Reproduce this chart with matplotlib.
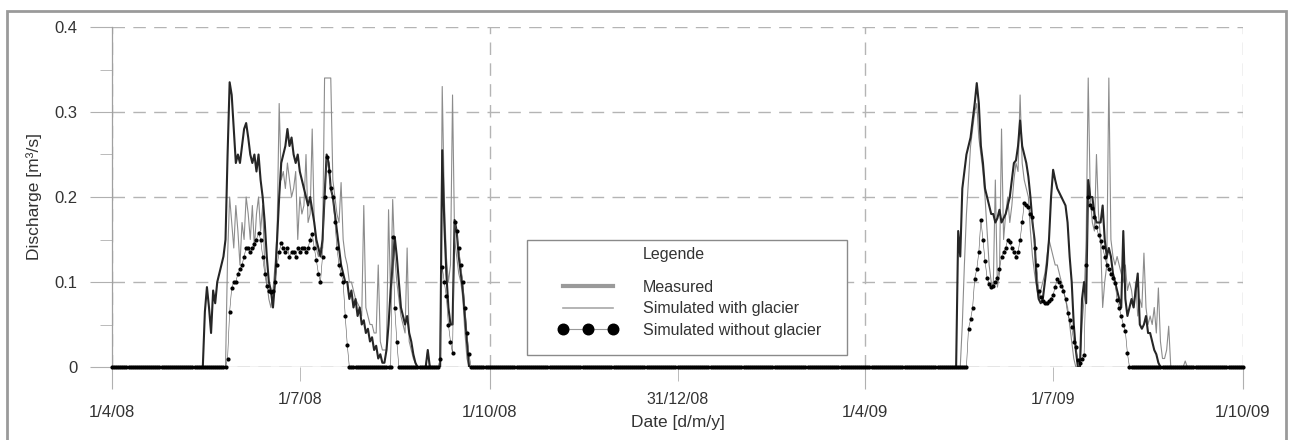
import numpy as np
import matplotlib
matplotlib.use("Agg")
import matplotlib.pyplot as plt
from matplotlib.patches import Rectangle

plt.rcParams["font.family"] = ["Liberation Sans", "DejaVu Sans"]

# Daily series, days counted from 1/4/08. Each season is stored as (start day, values).
start_date = np.datetime64("2008-04-01")
n_days = 549

meas_08_start = 44
meas_08 = [0.0, 0.065, 0.094, 0.07, 0.04, 0.09, 0.075, 0.1, 0.11, 0.12,
           0.13, 0.15, 0.25, 0.335, 0.32, 0.28, 0.24, 0.25, 0.24, 0.26,
           0.28, 0.287, 0.27, 0.25, 0.24, 0.25, 0.23, 0.25, 0.22, 0.2,
           0.17, 0.13, 0.1, 0.09, 0.07, 0.1, 0.15, 0.2, 0.24, 0.25,
           0.26, 0.28, 0.26, 0.27, 0.25, 0.24, 0.25, 0.23, 0.22, 0.21,
           0.2, 0.19, 0.2, 0.185, 0.17, 0.15, 0.14, 0.13, 0.15, 0.2,
           0.25, 0.24, 0.21, 0.2, 0.18, 0.16, 0.14, 0.12, 0.11, 0.1,
           0.1, 0.08, 0.09, 0.07, 0.08, 0.06, 0.07, 0.05, 0.055, 0.04,
           0.045, 0.03, 0.035, 0.02, 0.025, 0.01, 0.015, 0.005, 0.005, 0.02,
           0.05, 0.09, 0.12, 0.153, 0.13, 0.1, 0.07, 0.06, 0.05, 0.06,
           0.04, 0.03, 0.015, 0.005, 0, 0, 0, 0, 0, 0.02,
           0, 0, 0, 0, 0, 0, 0.255, 0.17, 0.11, 0.07,
           0.05, 0.05, 0.173, 0.16, 0.13, 0.11, 0.09, 0.06, 0.03, 0]

meas_09_start = 409
meas_09 = [0, 0.16, 0.13, 0.21, 0.23, 0.25, 0.26, 0.27, 0.29, 0.31,
           0.334, 0.31, 0.26, 0.24, 0.21, 0.2, 0.19, 0.18, 0.18, 0.17,
           0.175, 0.185, 0.17, 0.175, 0.18, 0.19, 0.2, 0.22, 0.24, 0.243,
           0.26, 0.29, 0.26, 0.25, 0.24, 0.224, 0.2, 0.17, 0.15, 0.1,
           0.08, 0.075, 0.08, 0.1, 0.12, 0.15, 0.2, 0.232, 0.22, 0.21,
           0.205, 0.2, 0.195, 0.19, 0.17, 0.13, 0.1, 0.05, 0.02, 0,
           0, 0.08, 0.1, 0.075, 0.22, 0.2, 0.2, 0.18, 0.17, 0.17,
           0.17, 0.19, 0.15, 0.13, 0.14, 0.13, 0.11, 0.1, 0.09, 0.08,
           0.07, 0.16, 0.08, 0.06, 0.07, 0.08, 0.07, 0.09, 0.11, 0.05,
           0.045, 0.05, 0.06, 0.04, 0.04, 0.03, 0.02, 0.015, 0.005, 0]

glac_08_start = 55
glac_08 = [0, 0.13, 0.2, 0.17, 0.14, 0.19, 0.16, 0.12, 0.17, 0.15,
           0.2, 0.18, 0.15, 0.19, 0.14, 0.18, 0.2, 0.16, 0.19, 0.12,
           0.1, 0.08, 0.07, 0.09, 0.12, 0.16, 0.31, 0.22, 0.23, 0.21,
           0.24, 0.22, 0.2, 0.21, 0.23, 0.15, 0.2, 0.18, 0.19, 0.25,
           0.17, 0.18, 0.28, 0.17, 0.14, 0.13, 0.14, 0.14, 0.34, 0.34,
           0.34, 0.34, 0.22, 0.2, 0.18, 0.17, 0.217, 0.15, 0.13, 0.12,
           0.1, 0.1, 0.09, 0.08, 0.075, 0.07, 0.06, 0.19, 0.07, 0.06,
           0.05, 0.05, 0.04, 0.04, 0.12, 0.03, 0.02, 0.02, 0.02, 0.185,
           0.08, 0.197, 0.13, 0.1, 0.08, 0.06, 0.05, 0.04, 0.14, 0.03,
           0.02, 0.01, 0.005, 0, 0, 0, 0, 0, 0.02, 0,
           0, 0, 0, 0, 0, 0.33, 0.2, 0.13, 0.1, 0.12,
           0.32, 0.15, 0.13, 0.11, 0.1, 0.08, 0.04, 0.01, 0]

glac_09_start = 411
glac_09 = [0, 0.05, 0.12, 0.18, 0.22, 0.26, 0.28, 0.3, 0.31, 0.27,
           0.25, 0.23, 0.2, 0.16, 0.12, 0.1, 0.095, 0.22, 0.094, 0.11,
           0.28, 0.15, 0.18, 0.2, 0.17, 0.19, 0.22, 0.24, 0.23, 0.32,
           0.24, 0.22, 0.21, 0.2, 0.16, 0.13, 0.11, 0.094, 0.08, 0.09,
           0.1, 0.11, 0.13, 0.15, 0.14, 0.13, 0.12, 0.12, 0.11, 0.1,
           0.09, 0.08, 0.07, 0.05, 0.03, 0.01, 0, 0, 0, 0.05,
           0.08, 0.15, 0.34, 0.2, 0.17, 0.16, 0.25, 0.18, 0.15, 0.07,
           0.1, 0.12, 0.34, 0.15, 0.13, 0.12, 0.13, 0.12, 0.11, 0.1,
           0.12, 0.09, 0.1, 0.09, 0.07, 0.1, 0.06, 0.08, 0.07, 0.134,
           0.07, 0.05, 0.06, 0.05, 0.07, 0.04, 0.093, 0.03, 0.01, 0.01,
           0.02, 0.048, 0, 0, 0, 0, 0, 0, 0, 0.007, 0]

noglac_08_start = 55
noglac_08 = [0, 0.01, 0.065, 0.093, 0.1, 0.1, 0.11, 0.115, 0.12, 0.13,
             0.14, 0.14, 0.135, 0.14, 0.145, 0.15, 0.158, 0.15, 0.13, 0.11,
             0.095, 0.09, 0.088, 0.09, 0.1, 0.12, 0.135, 0.146, 0.14, 0.135,
             0.14, 0.13, 0.135, 0.135, 0.13, 0.14, 0.135, 0.14, 0.14, 0.135,
             0.14, 0.15, 0.157, 0.14, 0.126, 0.11, 0.1, 0.13, 0.2, 0.247,
             0.23, 0.21, 0.2, 0.17, 0.14, 0.12, 0.11, 0.1, 0.06, 0.026,
             0, 0, 0, 0, 0, 0, 0, 0, 0, 0,
             0, 0, 0, 0, 0, 0, 0, 0, 0, 0,
             0, 0.153, 0.07, 0.03, 0, 0, 0, 0, 0, 0,
             0, 0, 0, 0, 0, 0, 0, 0, 0, 0,
             0, 0, 0, 0, 0.01, 0.118, 0.1, 0.083, 0.05, 0.03,
             0.016, 0.17, 0.16, 0.14, 0.12, 0.1, 0.07, 0.04, 0.015, 0]

noglac_09_start = 414
noglac_09 = [0, 0.045, 0.056, 0.07, 0.104, 0.115, 0.135, 0.173, 0.15, 0.125,
             0.105, 0.098, 0.094, 0.095, 0.1, 0.105, 0.115, 0.13, 0.135, 0.14,
             0.15, 0.147, 0.14, 0.135, 0.13, 0.135, 0.15, 0.17, 0.193, 0.19,
             0.188, 0.18, 0.176, 0.14, 0.12, 0.09, 0.082, 0.078, 0.075, 0.075,
             0.078, 0.08, 0.085, 0.094, 0.104, 0.1, 0.095, 0.09, 0.08, 0.063,
             0.055, 0.047, 0.03, 0.023, 0.008, 0.005, 0.01, 0.014, 0.12, 0.2,
             0.19, 0.187, 0.176, 0.165, 0.155, 0.148, 0.141, 0.13, 0.12, 0.115,
             0.11, 0.105, 0.099, 0.079, 0.07, 0.06, 0.05, 0.042, 0.016, 0]

major_dates = ["2008-04-01", "2008-10-01", "2009-04-01", "2009-10-01"]
major_labels = ["1/4/08", "1/10/08", "1/4/09", "1/10/09"]
minor_dates = ["2008-07-01", "2008-12-31", "2009-07-01"]
minor_labels = ["1/7/08", "31/12/08", "1/7/09"]


def build(*segments):
    arr = np.zeros(n_days)
    for start, vals in segments:
        arr[start:start + len(vals)] = vals
    return arr


dates = start_date + np.arange(n_days)
measured = build((meas_08_start, meas_08), (meas_09_start, meas_09))
with_glacier = build((glac_08_start, glac_08), (glac_09_start, glac_09))
without_glacier = build((noglac_08_start, noglac_08), (noglac_09_start, noglac_09))

fig = plt.figure(figsize=(12.93, 4.40), dpi=100)
ax = fig.add_axes([112 / 1293, 73 / 440, 1131 / 1293, 340 / 440])

ax.plot(dates, with_glacier, color="#8c8c8c", lw=0.8, zorder=2, label="Simulated with glacier")
ax.plot(dates, measured, color="#262626", lw=1.5, zorder=3, label="Measured")
ax.plot(dates, without_glacier, color="#555555", lw=0.4, marker="o", markersize=2.0,
        markerfacecolor="black", markeredgecolor="black", zorder=4, clip_on=False,
        label="Simulated without glacier")

ax.set_xlim(start_date, start_date + np.timedelta64(548, "D"))
ax.set_ylim(0, 0.4)

# Ticks
ax.set_xticks(np.array(major_dates, dtype="datetime64[D]"))
ax.set_xticklabels(major_labels)
ax.set_xticks(np.array(minor_dates, dtype="datetime64[D]"), minor=True)
ax.set_xticklabels(minor_labels, minor=True)
ax.set_yticks([0, 0.1, 0.2, 0.3, 0.4])
ax.set_yticklabels(["0", "0.1", "0.2", "0.3", "0.4"])
ax.set_yticks([0.05, 0.15, 0.25, 0.35], minor=True)

ax.tick_params(axis="x", which="major", length=16, pad=11, color="#b0b0b0",
               labelsize=12, labelcolor="#333333")
ax.tick_params(axis="x", which="minor", length=10, pad=8, color="#b0b0b0",
               labelsize=11.5, labelcolor="#333333")
ax.tick_params(axis="y", which="major", length=16, pad=9, color="#b0b0b0",
               labelsize=12, labelcolor="#333333")
ax.tick_params(axis="y", which="minor", length=9, color="#b0b0b0")

for side in ["top", "right", "bottom"]:
    ax.spines[side].set_visible(False)
ax.spines["left"].set_color("#a0a0a0")
ax.spines["left"].set_linewidth(0.9)
ax.axhline(0, color="#c0c0c0", lw=1, zorder=1)

ax.grid(True, which="major", color="#b4b4b4", lw=1, linestyle=(0, (9, 6)))

ax.set_ylabel("Discharge [m³/s]", fontsize=12.5, color="#333333")
ax.yaxis.set_label_coords(-0.062, 0.5)
ax.set_xlabel("Date [d/m/y]", fontsize=12.5, color="#333333")
ax.xaxis.set_label_coords(0.5004, -0.142)

# Legend with its own frame and heading
ax.add_patch(Rectangle((0.367, 0.035), 0.283, 0.338, transform=ax.transAxes,
                       facecolor="white", edgecolor="#8a8a8a", lw=1, zorder=5, clip_on=False))
ax.text(0.4695, 0.332, "Legende", transform=ax.transAxes, ha="left", va="center",
        fontsize=11.5, color="#333333", zorder=7)
h, l = ax.get_legend_handles_labels()
order = [1, 0, 2]
leg = ax.legend([h[i] for i in order], [l[i] for i in order], loc="upper left",
                bbox_to_anchor=(0.3943, 0.2559), borderaxespad=0, borderpad=0,
                frameon=False, fontsize=11.5, handlelength=3.75, handletextpad=1.56,
                labelspacing=0.4, numpoints=3, markerscale=3.8)
leg.set_zorder(6)
for t in leg.get_texts():
    t.set_color("#333333")
lh = leg.legend_handles
lh[0].set_color("#9a9a9a")
lh[0].set_linewidth(3)
lh[1].set_color("#a8a8a8")
lh[1].set_linewidth(1.2)
lh[2].set_color("#999999")
lh[2].set_linewidth(0.8)

# Outer grey frame of the figure
fig.patches.append(Rectangle((7 / 1293, -0.01), 1279 / 1293, 1.01 - 11 / 440,
                             transform=fig.transFigure, fill=False,
                             edgecolor="#9a9a9a", lw=2))

fig.savefig("out.png", dpi=100)
